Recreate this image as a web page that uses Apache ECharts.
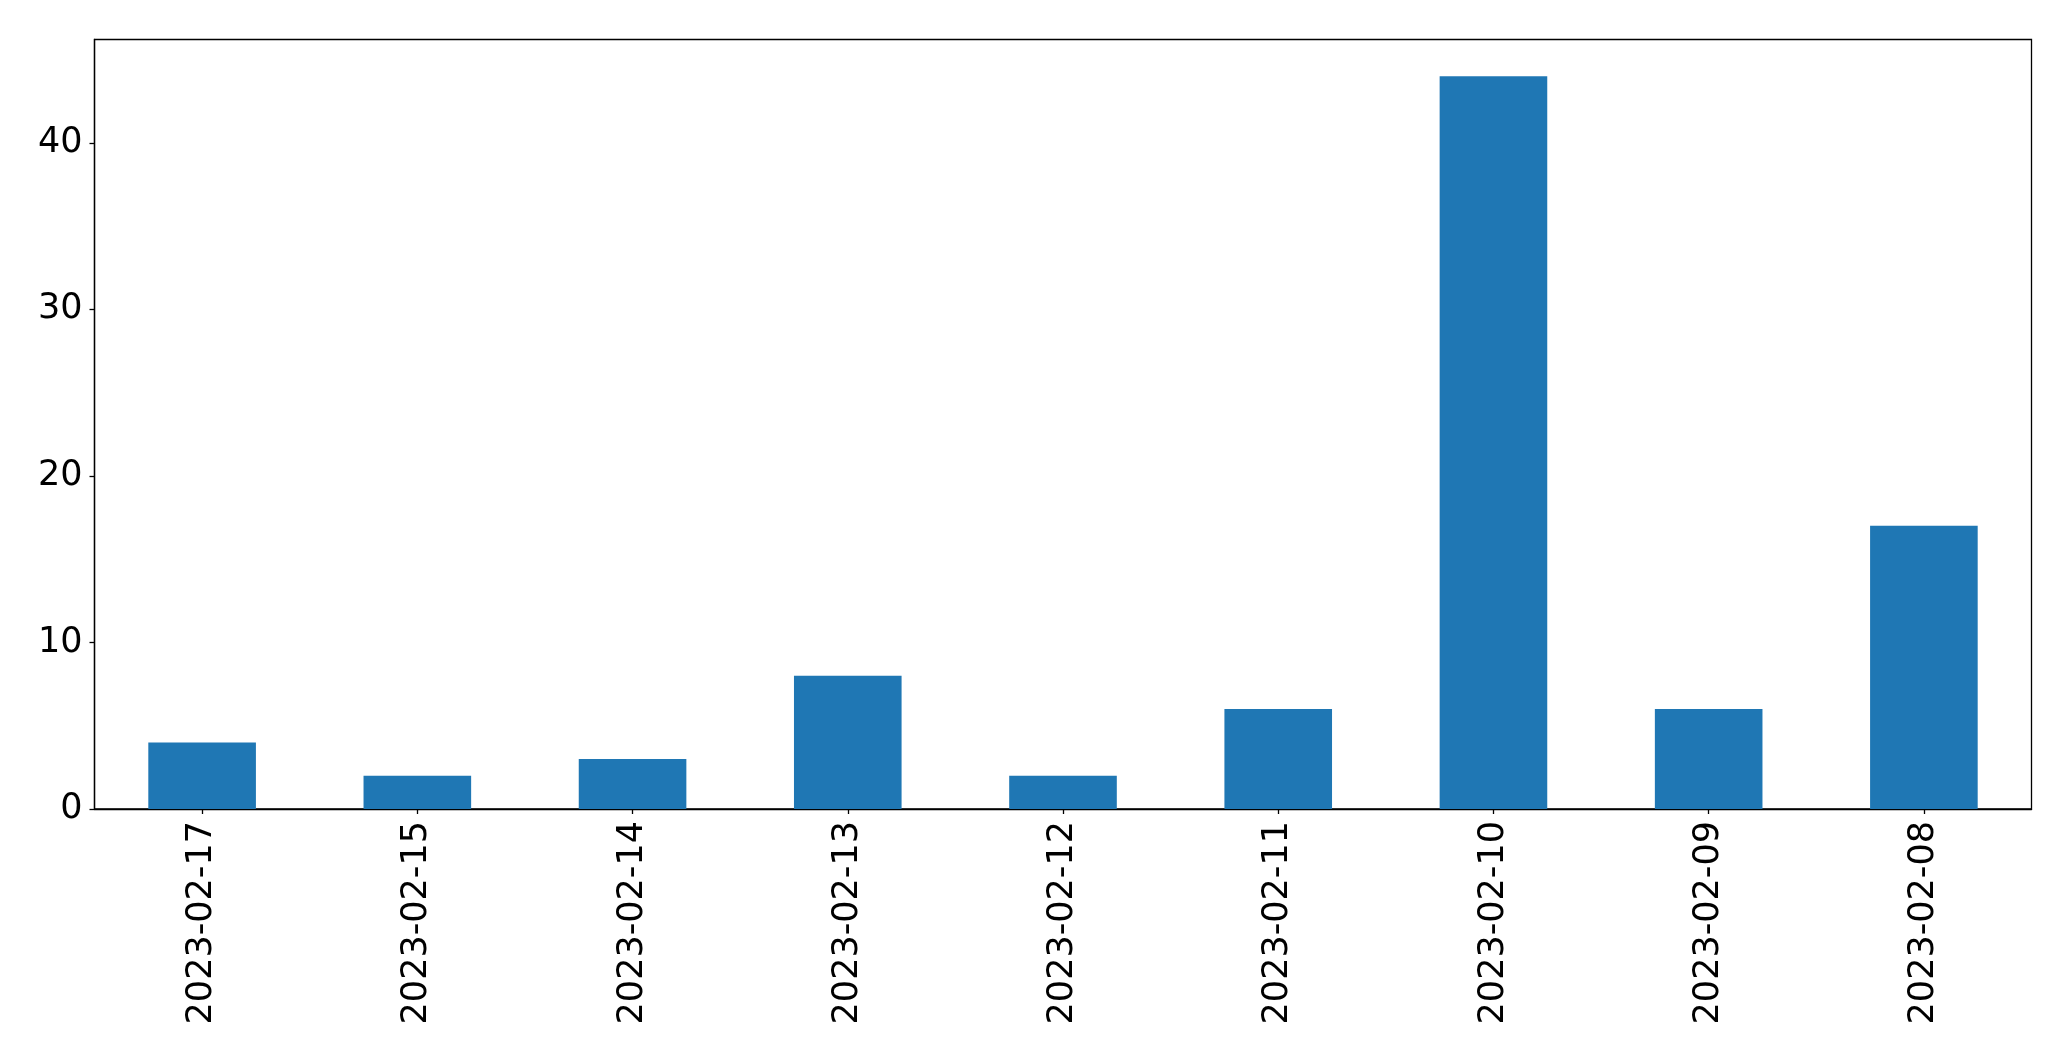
<!DOCTYPE html>
<html>
<head>
<meta charset="utf-8">
<script src="https://cdn.jsdelivr.net/npm/echarts@6/dist/echarts.min.js"></script>
<style>
html,body{margin:0;padding:0;background:#fff;}
#chart{width:2071px;height:1061px;}
</style>
</head>
<body>
<div id="chart"></div>
<script>
const categories = ["2023-02-17","2023-02-15","2023-02-14","2023-02-13","2023-02-12","2023-02-11","2023-02-10","2023-02-09","2023-02-08"];
const counts = [4, 2, 3, 8, 2, 6, 44, 6, 17];
const yTicks = [0, 10, 20, 30, 40];

const chart = echarts.init(document.getElementById('chart'), null, {renderer: 'canvas'});
const font = "DejaVu Sans";
chart.setOption({
  animation: false,
  backgroundColor: '#ffffff',
  grid: {
    left: 94.5, right: 39.5, top: 39.5, bottom: 252,
    show: true, borderColor: '#000', borderWidth: 1.3, backgroundColor: 'transparent'
  },
  xAxis: {
    type: 'category',
    data: categories,
    boundaryGap: true,
    axisLine: {show: true, lineStyle: {color: '#000', width: 1.3}},
    axisTick: {show: true, alignWithLabel: true, length: 5, lineStyle: {color: '#000', width: 1.3}},
    axisLabel: {rotate: 90, margin: 12, color: '#000', fontFamily: font, fontSize: 35, interval: 0},
    splitLine: {show: false}
  },
  yAxis: {
    type: 'value',
    min: 0,
    max: 46.2,
    interval: 10,
    axisLine: {show: true, lineStyle: {color: '#000', width: 1.3}},
    axisTick: {show: true, length: 5, lineStyle: {color: '#000', width: 1.3}},
    axisLabel: {
      margin: 12, color: '#000', fontFamily: font, fontSize: 35,
      formatter: v => yTicks.includes(v) ? String(v) : '',
      showMaxLabel: false
    },
    splitLine: {show: false}
  },
  series: [{
    type: 'bar',
    data: counts,
    barWidth: '50%',
    itemStyle: {color: '#1f77b4'}
  }]
});
</script>
</body>
</html>
